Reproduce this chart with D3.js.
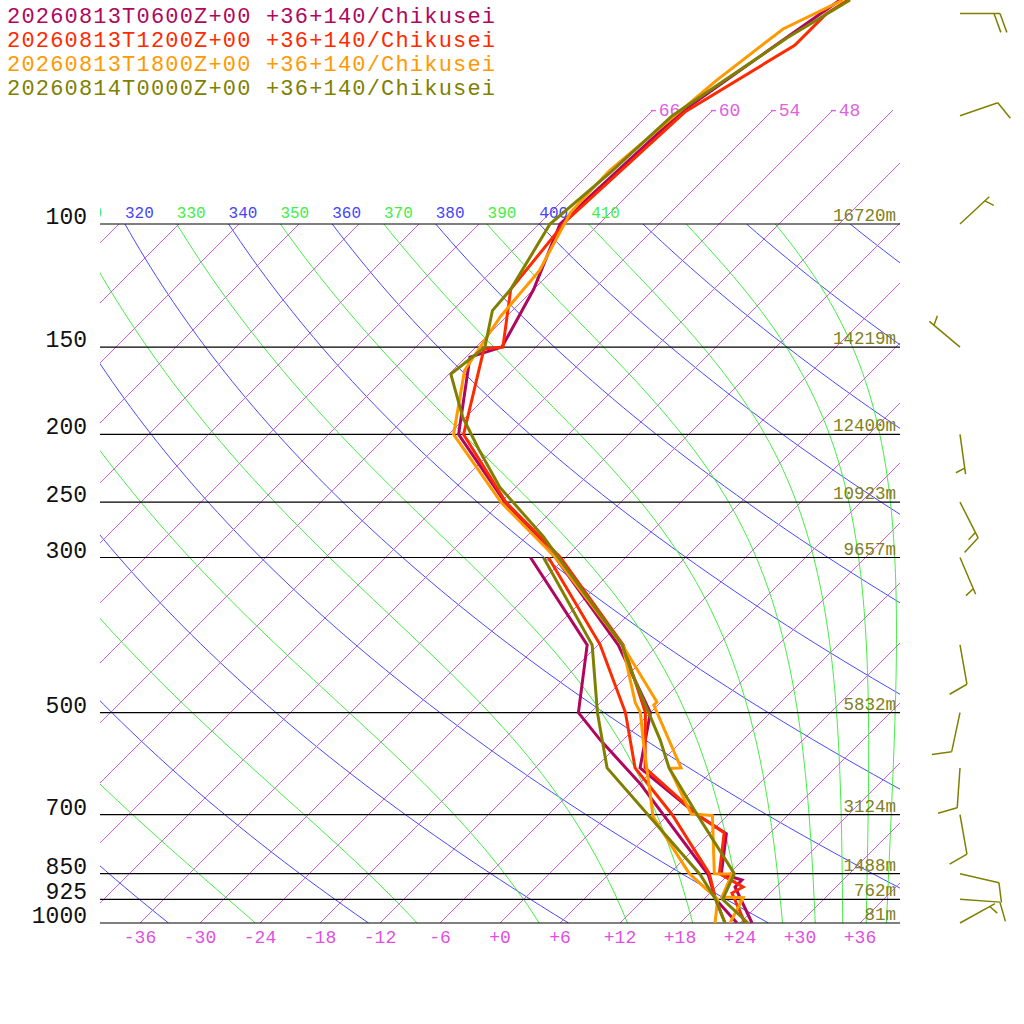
<!DOCTYPE html>
<html><head><meta charset="utf-8">
<script src="https://cdn.jsdelivr.net/npm/d3@7"></script>
<style>body{margin:0;background:#fff}svg{display:block}text{font-family:"Liberation Mono","DejaVu Sans Mono",monospace}</style>
</head><body>
<svg id="chart" width="1024" height="1024"></svg>
<script>
// run titles
var runLabels = ['20260813T0600Z+00 +36+140/Chikusei', '20260813T1200Z+00 +36+140/Chikusei',
                 '20260813T1800Z+00 +36+140/Chikusei', '20260814T0000Z+00 +36+140/Chikusei'];
var runColors = ['#b0065e', '#ff2a00', '#ff9900', '#808000'];

var pressureLevels = [100, 150, 200, 250, 300, 500, 700, 850, 925, 1000];
var heightLabels = ['16720m', '14219m', '12400m', '10923m', '9657m', '5832m', '3124m', '1488m', '762m', '81m'];
var tempTicks = [-36, -30, -24, -18, -12, -6, 0, 6, 12, 18, 24, 30, 36];
var topIsoLabels = [-66, -60, -54, -48];
var thetaLabels = [310, 320, 330, 340, 350, 360, 370, 380, 390, 400, 410];

// temperature profiles (hPa, degC)
var t06P = [47.8, 53.3, 69.4, 100, 124, 150, 155, 200, 250, 300, 400, 500, 600, 700, 745, 850, 868, 888, 1000];
var t06T = [-58.3, -59.7, -63, -63.9, -60, -57.4, -59.6, -53, -41.6, -31, -16, -6, -1.5, 8.9, 13.7, 17.2, 19.9, 19.9, 25.2];
var t12P = [47.8, 50, 55.5, 69, 99, 124, 150, 151, 200, 250, 300, 400, 500, 600, 700, 743, 850, 888, 906, 1000];
var t12T = [-57.5, -58.3, -58.3, -62.6, -63.6, -62.3, -57.3, -59, -52.5, -41.5, -30.5, -15.5, -6.5, -1, 8.9, 13.4, 17, 20.7, 20.2, 24.5];
var t18P = [47.8, 52.6, 62.2, 84, 96.3, 116.6, 135.6, 162, 200, 250, 300, 400, 483, 488, 600, 601, 698, 702, 850, 851, 918, 920, 1000];
var t18T = [-58, -61.1, -62.6, -64.3, -64, -61.3, -60.6, -58.8, -53.5, -42, -31, -15.6, -6.4, -6.4, 2.6, 1.5, 8.2, 10.5, 16.5, 18.3, 19.6, 21.8, 23];
var t00P = [47.8, 54.2, 70, 84, 100, 124, 133, 150, 164, 189, 210, 238, 280, 300, 400, 439, 547, 600, 700, 850, 925, 1000];
var t00T = [-57.3, -59.8, -63.5, -64, -64.9, -62.3, -62, -59.1, -59.8, -54.3, -49.5, -43.6, -34.3, -30.7, -15.6, -11.8, -2.3, 1.4, 8.9, 18.5, 19.9, 24.8];

// dewpoint profiles
var d06P = [300, 400, 500, 547, 631, 853, 925, 1000];
var d06T = [-33.5, -19.1, -13.2, -8.3, 0, 16, 19.2, 23.7];
var d12P = [300, 400, 500, 600, 700, 850, 925, 1000];
var d12T = [-31.7, -17.8, -8.5, -2, 6.4, 16, 19.2, 22.5];
var d18P = [403, 484, 500, 547, 705, 850, 925, 1000];
var d18T = [-15.3, -8.5, -7, -4, 4.7, 14, 19.4, 21.5];
var d00P = [300, 400, 500, 600, 853, 925, 1000];
var d00T = [-32.2, -18.6, -11.3, -4.8, 15.2, 19.2, 22.5];

// wind barbs
var barbP = [50, 70, 100, 150, 200, 250, 300, 400, 500, 600, 700, 850, 925, 1000];
var barbDir = [90, 71, 47, 310, 172, 153, 157, 170, 192, 184, 170, 103, 94, 61];
var barbSpd = [20, 10, 5, 5, 5, 15, 5, 10, 10, 10, 10, 10, 10, 5];

var svg = d3.select('#chart');
var left = 100, right = 900, bottom = 923, topY = 224;

var y = d3.scaleLog().domain([1000, 100]).range([923, 224]);
var xT = d3.scaleLinear().domain([-40, 40]).range([left, right]);
function X(t, p) { return xT(t) + (bottom - y(p)); }

var defs = svg.append('defs');
defs.append('clipPath').attr('id', 'plot')
  .append('rect').attr('x', left).attr('y', 0).attr('width', right - left).attr('height', bottom);
defs.append('clipPath').attr('id', 'low')
  .append('rect').attr('x', left).attr('y', topY).attr('width', right - left).attr('height', bottom - topY);

var g = svg.append('g').attr('clip-path', 'url(#low)');
var gi = svg.append('g').attr('clip-path', 'url(#plot)');

var samples = d3.range(0, 81).map(function(i) { return 1000 * Math.pow(0.1, i / 80); });
var line = d3.line().x(function(d) { return d[0]; }).y(function(d) { return d[1]; });

// isotherms; the ones labelled at the top reach up to the labels
var pLab = y.invert(110);
d3.range(-156, 48, 6).forEach(function(t) {
  var pEnd = t >= -66 ? pLab : 100;
  gi.append('path').attr('d', line([[X(t, 1000), y(1000)], [X(t, pEnd), y(pEnd)]]))
    .attr('stroke', '#c850e0').attr('stroke-width', 0.9).attr('fill', 'none');
});

// dry adiabats
function thetaT(th, p) { return th * Math.pow(p / 1000, 0.2857) - 273.15; }
d3.range(200, 520, 20).forEach(function(th) {
  g.append('path').attr('d', line(samples.map(function(p) { return [X(thetaT(th, p), p), y(p)]; })))
    .attr('stroke', '#4848ff').attr('stroke-width', 1).attr('fill', 'none');
});

// moist adiabats by equivalent potential temperature
function thetaE(tk, p) {
  var tc = tk - 273.15;
  var es = 6.112 * Math.exp(17.67 * tc / (tc + 243.5));
  var rs = 0.622 * es / Math.max(p - es, 1);
  return tk * Math.pow(1000 / p, 0.2857) * Math.exp(2.5e6 * rs / (1004 * tk));
}
function solveTE(te, p) {
  var lo = 120, hi = 340;
  for (var i = 0; i < 50; i++) {
    var mid = (lo + hi) / 2;
    if (thetaE(mid, p) < te) lo = mid; else hi = mid;
  }
  return lo - 273.15;
}
d3.range(250, 470, 20).forEach(function(te) {
  g.append('path').attr('d', line(samples.map(function(p) { return [X(solveTE(te, p), p), y(p)]; })))
    .attr('stroke', '#44ee44').attr('stroke-width', 1).attr('fill', 'none');
});

// pressure lines
pressureLevels.forEach(function(p, i) {
  svg.append('line').attr('x1', left).attr('x2', right).attr('y1', y(p)).attr('y2', y(p))
    .attr('stroke', '#000').attr('stroke-width', 1.2);
  svg.append('text').attr('x', 87).attr('y', y(p)).attr('text-anchor', 'end')
    .attr('font-size', 23).attr('fill', '#111').text(p);
  svg.append('text').attr('x', 896).attr('y', y(p) - 3).attr('text-anchor', 'end')
    .attr('font-size', 17.5).attr('fill', '#808020').text(heightLabels[i]);
});

// theta labels along the 100 hPa line
var lg = svg.append('g').attr('clip-path', 'url(#plot)');
thetaLabels.forEach(function(th) {
  lg.append('text').attr('x', X(thetaT(th, 100), 100)).attr('y', 218)
    .attr('font-size', 16).attr('fill', th % 20 === 0 ? '#4444ff' : '#44ee44').text(th);
});

// isotherm labels near top
topIsoLabels.forEach(function(t) {
  svg.append('text').attr('x', X(t, pLab) - 5).attr('y', 116)
    .attr('font-size', 18).attr('fill', '#e060e0').text(t);
});

// bottom temperature labels
tempTicks.forEach(function(t) {
  svg.append('text').attr('x', xT(t)).attr('y', 943).attr('text-anchor', 'middle')
    .attr('font-size', 18).attr('fill', '#e050e0').text((t >= 0 ? '+' : '') + t);
});

// soundings
var series = [[t06P, t06T, d06P, d06T], [t12P, t12T, d12P, d12T], [t18P, t18T, d18P, d18T], [t00P, t00T, d00P, d00T]];
var sg = svg.append('g').attr('clip-path', 'url(#plot)');
series.forEach(function(s, i) {
  [[s[0], s[1]], [s[2], s[3]]].forEach(function(pt) {
    sg.append('path').attr('d', line(pt[0].map(function(p, j) { return [X(pt[1][j], p), y(p)]; })))
      .attr('stroke', runColors[i]).attr('stroke-width', 3).attr('fill', 'none');
  });
});

// titles
runLabels.forEach(function(t, i) {
  svg.append('text').attr('x', 7).attr('y', 23 + i * 24).attr('font-size', 22)
    .attr('textLength', 488).attr('lengthAdjust', 'spacing')
    .attr('fill', runColors[i]).text(t);
});

// wind barbs
var bg = svg.append('g').attr('stroke', '#808000').attr('stroke-width', 1.5).attr('fill', 'none');
barbP.forEach(function(p, i) {
  var x0 = 960, y0 = y(p), L = 40;
  var a = barbDir[i] * Math.PI / 180;
  var sx = Math.sin(a), sy = -Math.cos(a);
  var tx = x0 + sx * L, ty = y0 + sy * L;
  bg.append('line').attr('x1', x0).attr('y1', y0).attr('x2', tx).attr('y2', ty);
  var ang = Math.atan2(sy, sx) + 70 * Math.PI / 180;
  var fx = Math.cos(ang), fy = Math.sin(ang);
  var spd = barbSpd[i], k = 0;
  var full = Math.floor(spd / 10), half = (spd % 10) >= 5 ? 1 : 0;
  if (full === 0 && half) k = 1;
  for (var f = 0; f < full; f++, k++) {
    var bx = tx - sx * 6 * k, by = ty - sy * 6 * k;
    bg.append('line').attr('x1', bx).attr('y1', by).attr('x2', bx + fx * 20).attr('y2', by + fy * 20);
  }
  if (half) {
    var hx = tx - sx * 6 * k, hy = ty - sy * 6 * k;
    bg.append('line').attr('x1', hx).attr('y1', hy).attr('x2', hx + fx * 10).attr('y2', hy + fy * 10);
  }
});
</script>
</body></html>
